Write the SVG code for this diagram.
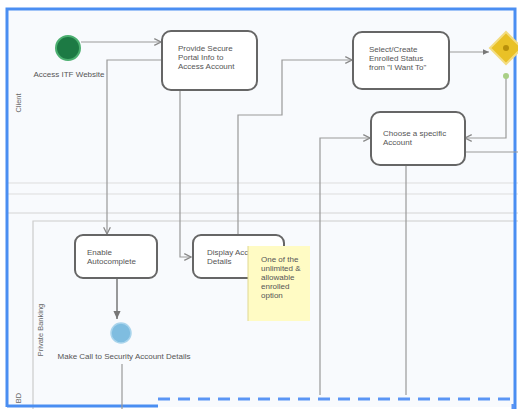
<svg xmlns="http://www.w3.org/2000/svg" width="518" height="409" viewBox="0 0 518 409">
<defs>
<marker id="arr" viewBox="0 0 10 10" refX="9" refY="5" markerWidth="7" markerHeight="7" orient="auto"><path d="M1,1 L9,5 L1,9" fill="none" stroke="#888" stroke-width="1.5"/></marker>
<marker id="arrf" viewBox="0 0 10 10" refX="9" refY="5" markerWidth="6" markerHeight="6" orient="auto"><path d="M0,1 L9,5 L0,9 Z" fill="#777"/></marker>
</defs>
<style>
.task{fill:#fff;stroke:#666;stroke-width:2}
.t{font-family:"Liberation Sans",Arial,sans-serif;font-size:8px;fill:#555}
.lane{font-family:"Liberation Sans",Arial,sans-serif;font-size:7.5px;fill:#666}
.c{fill:none;stroke:#999;stroke-width:1.2}
.lb{fill:none;stroke:#ddd;stroke-width:1}
</style>
<rect x="0" y="0" width="518" height="409" fill="#fff"/>
<rect x="7" y="9" width="508" height="398" fill="#f8fafd"/>
<g id="lanes">
<line class="lb" x1="8" y1="183" x2="518" y2="183"/>
<line class="lb" x1="8" y1="194" x2="518" y2="194"/>
<line x1="8" y1="213" x2="518" y2="213" stroke="#d4d4d4" stroke-width="1"/>
<path d="M518,221 H33 V409" fill="none" stroke="#ccc" stroke-width="1.2"/>
<text class="lane" transform="translate(21,103) rotate(-90)" text-anchor="middle">Client</text>
<text class="lane" transform="translate(43,330) rotate(-90)" text-anchor="middle">Private Banking</text>
<text class="lane" transform="translate(21,398) rotate(-90)" text-anchor="middle">BD</text>
</g>
<path d="M7,407 V9 H515 V409" fill="none" stroke="#4a8ef2" stroke-width="3"/>
<line x1="7" y1="406" x2="158" y2="406" stroke="#4a8ef2" stroke-width="3"/>
<path d="M158,399 H513 V409" fill="none" stroke="#5b95f5" stroke-width="3" stroke-dasharray="12,8"/>
<g id="connectors">
<line class="c" x1="81" y1="42" x2="161" y2="42" marker-end="url(#arr)"/>
<path class="c" d="M162,60 H107 V234" marker-end="url(#arr)"/>
<path class="c" d="M180,90 V257 H191" marker-end="url(#arr)"/>
<path class="c" d="M238,237 V115 H282 V60 H352" marker-end="url(#arr)"/>
<line class="c" x1="449" y1="52" x2="489" y2="52" marker-end="url(#arrf)"/>
<path class="c" d="M506,78 V138 H465" marker-end="url(#arr)"/>
<line class="c" x1="465" y1="152" x2="518" y2="152"/>
<path class="c" d="M320,395 V138 H370" marker-end="url(#arr)"/>
<line class="c" x1="406" y1="165" x2="406" y2="395"/>
<line x1="117" y1="278" x2="117" y2="319" stroke="#777" stroke-width="1.5" marker-end="url(#arrf)"/>
<line class="c" x1="122" y1="364" x2="122" y2="409"/>
</g>
<g id="start">
<circle cx="68" cy="48" r="12" fill="#1d7a44" stroke="#4caf70" stroke-width="2"/>
<text class="t" x="69" y="77" text-anchor="middle">Access ITF Website</text>
</g>
<g id="task-provide">
<rect class="task" x="162" y="31" width="95" height="59" rx="9"/>
<text class="t" x="178" y="51">Provide Secure</text>
<text class="t" x="178" y="60">Portal Info to</text>
<text class="t" x="178" y="69">Access Account</text>
</g>
<g id="task-select">
<rect class="task" x="353" y="32" width="96" height="57" rx="9"/>
<text class="t" x="369" y="52">Select/Create</text>
<text class="t" x="369" y="61">Enrolled Status</text>
<text class="t" x="369" y="70">from "I Want To"</text>
</g>
<g id="gateway">
<polygon points="506,32 522,48 506,64 490,48" fill="#e9c126" stroke="#f3dc80" stroke-width="2"/>
<circle cx="506" cy="48" r="3" fill="#b8900a"/>
<circle cx="506" cy="76" r="3" fill="#a9cf86"/>
</g>
<g id="task-choose">
<rect class="task" x="371" y="112" width="94" height="53" rx="9"/>
<text class="t" x="383" y="136">Choose a specific</text>
<text class="t" x="383" y="145">Account</text>
</g>
<g id="task-enable">
<rect class="task" x="75" y="235" width="82" height="43" rx="8"/>
<text class="t" x="87" y="255">Enable</text>
<text class="t" x="87" y="264">Autocomplete</text>
</g>
<g id="task-display">
<rect class="task" x="193" y="235" width="91" height="43" rx="8"/>
<text class="t" x="207" y="255">Display Account</text>
<text class="t" x="207" y="264">Details</text>
</g>
<g id="note">
<rect x="248" y="246" width="62" height="75" fill="#fffbc4"/>
<line x1="248" y1="246" x2="248" y2="321" stroke="#e0d890" stroke-width="1"/>
<text class="t" x="261" y="262" fill="#444">One of the</text>
<text class="t" x="261" y="271" fill="#444">unlimited &amp;</text>
<text class="t" x="261" y="280" fill="#444">allowable</text>
<text class="t" x="261" y="289" fill="#444">enrolled</text>
<text class="t" x="261" y="298" fill="#444">option</text>
</g>
<g id="event-call">
<circle cx="121" cy="333" r="10" fill="#7fbde0" stroke="#a9d4ec" stroke-width="1.5"/>
<text class="t" x="124" y="359" text-anchor="middle">Make Call to Security Account Details</text>
</g>
</svg>
